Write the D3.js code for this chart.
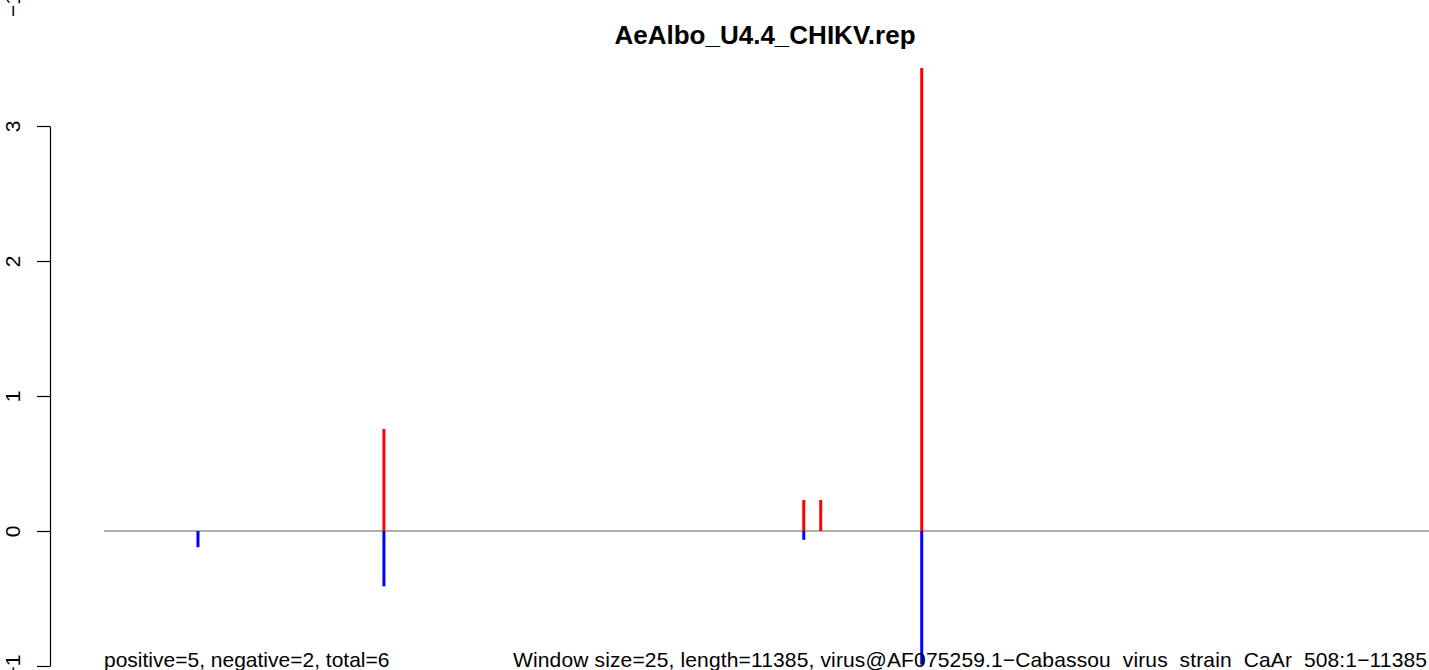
<!DOCTYPE html>
<html>
<head>
<meta charset="utf-8">
<script src="https://cdn.jsdelivr.net/npm/d3@7"></script>
<style>
  body { margin: 0; background: #fff; }
  svg { display: block; font-family: "Liberation Sans", Arial, sans-serif; }
</style>
</head>
<body>
<svg id="chart" width="1429" height="670"></svg>
<script>
var title = "AeAlbo_U4.4_CHIKV.rep"
var genomeLength = 11385

// window positions along the genome and their signal
var positions = [792, 2359, 5897, 6040, 6891]
var posValues = [0, 0.755, 0.23, 0.23, 3.43]
var negValues = [-0.12, -0.41, -0.065, 0, -0.99]

var yTicks = [-1, 0, 1, 2, 3]

var leftNote = "positive=5, negative=2, total=6"
var rightNote = "Window size=25, length=11385, virus@AF075259.1\u2212Cabassou_virus_strain_CaAr_508:1\u221211385"

var svg = d3.select("#chart")

var x = d3.scaleLinear().domain([0, genomeLength]).range([104, 1455])
var y = d3.scaleLinear().domain([-1, 3]).range([666, 126])

// y axis, R style: ticks outward, labels rotated
var yAxis = svg.append("g")
    .attr("transform", "translate(50,0)")
    .call(d3.axisLeft(y)
      .tickValues(yTicks)
      .tickSize(13)
      .tickSizeOuter(0)
      .tickFormat(d => d < 0 ? "\u2212" + Math.abs(d) : d))

yAxis.select(".domain").attr("stroke", "#000").attr("stroke-width", 1.2)
yAxis.selectAll(".tick line").attr("stroke", "#000").attr("stroke-width", 1.2)
yAxis.selectAll(".tick text")
    .attr("x", null).attr("dy", null)
    .attr("transform", "translate(-30,0) rotate(-90)")
    .attr("text-anchor", "middle")
    .attr("dominant-baseline", "alphabetic")
    .style("font-size", "21px")
    .style("font-family", "Liberation Sans, Arial, sans-serif")
    .attr("fill", "#000")

// stray label at the very top (from the panel above)
svg.append("text")
    .attr("transform", "translate(20,5) rotate(-90)")
    .attr("text-anchor", "middle")
    .style("font-size", "21px")
    .text("\u22121")

// baseline
svg.append("line")
    .attr("x1", x(0)).attr("x2", x(genomeLength))
    .attr("y1", y(0)).attr("y2", y(0))
    .attr("stroke", "#949494")
    .attr("stroke-width", 1.5)

var bars = positions.map((p, i) => ({ pos: p, up: posValues[i], down: negValues[i] }))

svg.selectAll(".up")
    .data(bars.filter(d => d.up > 0))
    .enter().append("line")
    .attr("class", "up")
    .attr("x1", d => x(d.pos)).attr("x2", d => x(d.pos))
    .attr("y1", y(0)).attr("y2", d => y(d.up))
    .attr("stroke", "#ff0000")
    .attr("stroke-width", 3)

svg.selectAll(".down")
    .data(bars.filter(d => d.down < 0))
    .enter().append("line")
    .attr("class", "down")
    .attr("x1", d => x(d.pos)).attr("x2", d => x(d.pos))
    .attr("y1", y(0)).attr("y2", d => y(d.down))
    .attr("stroke", "#0000ff")
    .attr("stroke-width", 3)

// title
svg.append("text")
    .attr("x", 765)
    .attr("y", 44)
    .attr("text-anchor", "middle")
    .style("font-size", "26px")
    .style("font-weight", "bold")
    .text(title)

// bottom notes
svg.append("text")
    .attr("x", x(0))
    .attr("y", 667)
    .style("font-size", "21px")
    .text(leftNote)

svg.append("text")
    .attr("x", 513)
    .attr("y", 667)
    .attr("textLength", 914)
    .attr("lengthAdjust", "spacing")
    .style("font-size", "21px")
    .text(rightNote)
</script>
</body>
</html>
